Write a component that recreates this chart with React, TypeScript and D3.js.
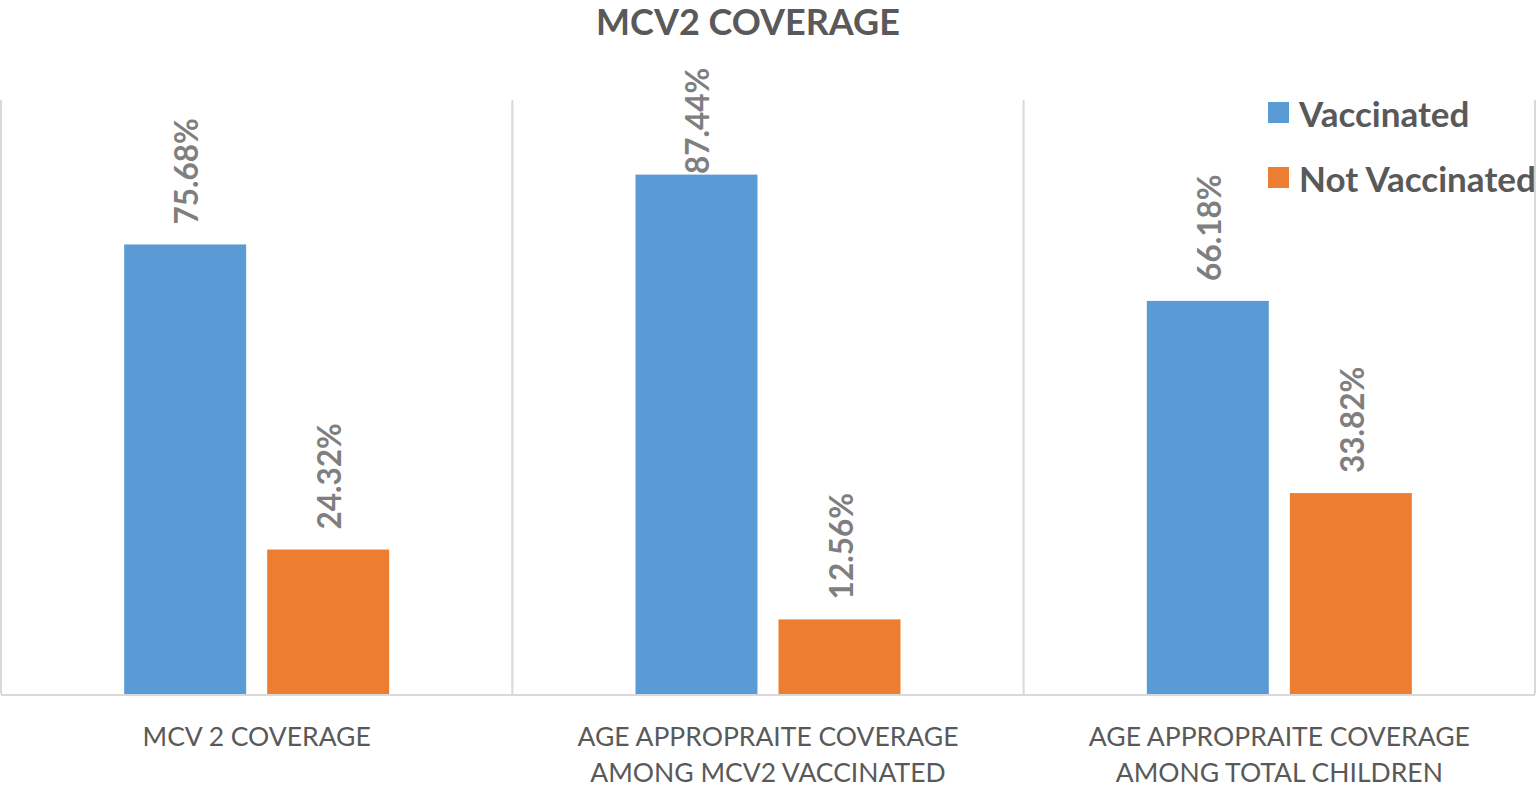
import React from "react";
import * as d3 from "d3";

const categories = [
  ["MCV 2 COVERAGE"],
  ["AGE APPROPRAITE COVERAGE", "AMONG MCV2 VACCINATED"],
  ["AGE APPROPRAITE COVERAGE", "AMONG TOTAL CHILDREN"],
];
const categoryKeys = ["c1", "c2", "c3"];
const seriesNames = ["Vaccinated", "Not Vaccinated"];
const vaccinated = [75.68, 87.44, 66.18];
const notVaccinated = [24.32, 12.56, 33.82];
const colors = ["#5b9bd5", "#ed7d31"];

export default function App() {
  const W = 1537;
  const H = 792;
  const plotLeft = 1;
  const plotRight = 1535;
  const plotTop = 100;
  const plotBottom = 694;
  const labelLen = 101;
  const labelMinTop = 73;

  const x0 = d3.scaleBand<string>().domain(categoryKeys).range([plotLeft, plotRight]).padding(0);
  const bw0 = x0.bandwidth();
  const groupW = 265;
  const x1 = d3
    .scaleBand<string>()
    .domain(seriesNames)
    .range([(bw0 - groupW) / 2, (bw0 + groupW) / 2])
    .paddingInner(0.147)
    .paddingOuter(0);
  const y = d3.scaleLinear().domain([0, 100]).range([plotBottom, plotTop]);

  const values = [vaccinated, notVaccinated];
  const font = "Lato, 'Open Sans', sans-serif";

  const boundaries = categoryKeys.map((k) => x0(k)!).concat([x0(categoryKeys[categoryKeys.length - 1])! + bw0]);

  return (
    <svg
      width={W}
      height={H}
      style={{ position: "absolute", left: 0, top: 0, background: "#fff" }}
      fontFamily={font}
    >
      <text x={748} y={35} textAnchor="middle" fontSize={36} fontWeight="bold" fill="#595959">
        MCV2 COVERAGE
      </text>
      {boundaries.map((bx, i) => (
        <line key={"v" + i} x1={bx} x2={bx} y1={plotTop} y2={plotBottom} stroke="#d9d9d9" strokeWidth={2} />
      ))}
      <line x1={plotLeft} x2={plotRight} y1={plotBottom + 1} y2={plotBottom + 1} stroke="#d9d9d9" strokeWidth={2} />
      {categoryKeys.map((k, ci) => (
        <g key={k} transform={`translate(${x0(k)},0)`}>
          {seriesNames.map((s, si) => {
            const v = values[si][ci];
            const bx = x1(s)!;
            const bw = x1.bandwidth();
            const top = y(v);
            const ly = Math.max(top - 20, labelMinTop + labelLen);
            return (
              <g key={s}>
                <rect x={bx} y={top} width={bw} height={plotBottom - top} fill={colors[si]} />
                <text
                  transform={`translate(${bx + bw / 2 + 1},${ly}) rotate(-90)`}
                  dominantBaseline="central"
                  fontSize={31.5}
                  fontWeight="bold"
                  fill="#7f7f7f"
                >
                  {v.toFixed(2)}%
                </text>
              </g>
            );
          })}
          {categories[ci].map((line, li) => (
            <text
              key={li}
              x={bw0 / 2}
              y={746 + li * 36}
              textAnchor="middle"
              fontSize={26.5}
              fill="#595959"
            >
              {line}
            </text>
          ))}
        </g>
      ))}
      {seriesNames.map((s, si) => (
        <g key={s} transform={`translate(1268,${102 + si * 65})`}>
          <rect x={0} y={0} width={21} height={21} fill={colors[si]} />
          <text x={31} y={11} dominantBaseline="central" fontSize={35} fontWeight="bold" fill="#595959">
            {s}
          </text>
        </g>
      ))}
    </svg>
  );
}
